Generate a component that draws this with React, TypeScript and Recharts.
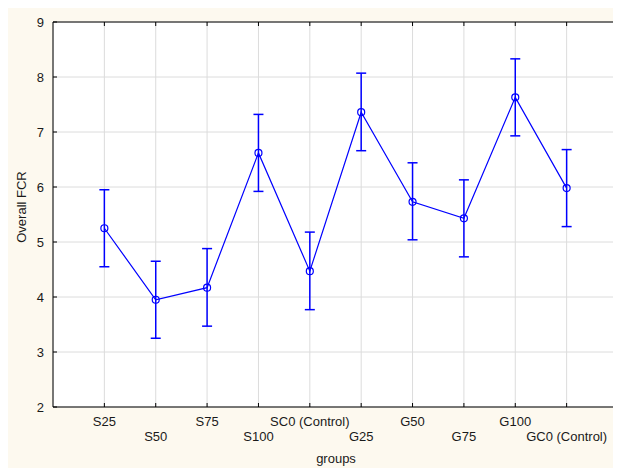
import { CartesianGrid, ErrorBar, Label, Line, LineChart, XAxis, YAxis } from 'recharts'

const categories = ['S25', 'S50', 'S75', 'S100', 'SC0 (Control)', 'G25', 'G50', 'G75', 'G100', 'GC0 (Control)']
const means = [5.25, 3.95, 4.17, 6.62, 4.47, 7.36, 5.73, 5.43, 7.63, 5.98]
const lower = [4.55, 3.25, 3.47, 5.92, 3.77, 6.66, 5.04, 4.73, 6.93, 5.28]
const upper = [5.95, 4.65, 4.88, 7.32, 5.18, 8.07, 6.44, 6.13, 8.33, 6.68]
const yTicks = [2, 3, 4, 5, 6, 7, 8, 9]
const xTicks = categories.map((_, i) => i + 1)

const data = categories.map((name, i) => ({
  name,
  pos: i + 1,
  fcr: means[i],
  err: [+(means[i] - lower[i]).toFixed(2), +(upper[i] - means[i]).toFixed(2)],
}))

const BLUE = '#0000ff'
const TEXT = '#1a1a1a'
const FONT = "'Liberation Sans', Arial, sans-serif"
const FS = 13

function BottomTick(props: any) {
  const { x, y, payload, index } = props
  const off = index % 2 === 0 ? 19 : 34
  return (
    <g>
      <line x1={x} y1={y} x2={x} y2={y - 4} stroke="#000" />
      <text x={x} y={y + off} textAnchor="middle" fontSize={FS} fill={TEXT} fontFamily={FONT}>
        {categories[payload.value - 1]}
      </text>
    </g>
  )
}

function TopTick(props: any) {
  const { x, y } = props
  return <line x1={x} y1={y} x2={x} y2={y + 4} stroke="#000" />
}

function LeftTick(props: any) {
  const { x, y, payload } = props
  return (
    <g>
      <line x1={x} y1={y} x2={x + 4} y2={y} stroke="#000" />
      <text x={x - 9} y={y + 4.5} textAnchor="end" fontSize={FS} fill={TEXT} fontFamily={FONT}>
        {payload.value}
      </text>
    </g>
  )
}

function RightTick(props: any) {
  const { x, y } = props
  return <line x1={x} y1={y} x2={x - 4} y2={y} stroke="#000" />
}

export default function App() {
  return (
    <div style={{ width: 613, height: 460, background: '#fdf9ef' }}>
      <LineChart width={613} height={460} data={data} margin={{ top: 0, right: 0, bottom: 0, left: 0 }}>
        <CartesianGrid stroke="#dcdcdc" fill="#ffffff" />
        <XAxis
          dataKey="pos"
          type="number"
          domain={[0, 11]}
          ticks={xTicks}
          height={61}
          tickSize={0}
          tickMargin={0}
          tickLine={false}
          axisLine={{ stroke: '#000' }}
          tick={<BottomTick />}
          interval={0}
        >
          <Label
            content={() => (
              <text x={328} y={455} textAnchor="middle" fontSize={FS} fill={TEXT} fontFamily={FONT}>
                groups
              </text>
            )}
          />
        </XAxis>
        <XAxis
          xAxisId="top"
          orientation="top"
          dataKey="pos"
          type="number"
          domain={[0, 11]}
          ticks={xTicks}
          height={14}
          tickSize={0}
          tickMargin={0}
          tickLine={false}
          axisLine={{ stroke: '#000' }}
          tick={<TopTick />}
          interval={0}
        />
        <YAxis
          domain={[2, 9]}
          ticks={yTicks}
          width={45}
          tickSize={0}
          tickMargin={0}
          tickLine={false}
          axisLine={{ stroke: '#000' }}
          tick={<LeftTick />}
          interval={0}
        >
          <Label
            content={() => (
              <text
                x={18}
                y={199}
                transform="rotate(-90, 18, 199)"
                textAnchor="middle"
                fontSize={FS}
                fill={TEXT}
                fontFamily={FONT}
              >
                Overall FCR
              </text>
            )}
          />
        </YAxis>
        <YAxis
          yAxisId="right"
          orientation="right"
          domain={[2, 9]}
          ticks={yTicks}
          width={3}
          tickSize={0}
          tickMargin={0}
          tickLine={false}
          axisLine={{ stroke: '#000' }}
          tick={<RightTick />}
          interval={0}
        />
        <Line
          dataKey="fcr"
          stroke={BLUE}
          strokeWidth={1.2}
          dot={{ r: 3.5, stroke: BLUE, strokeWidth: 1.2, fill: 'none' }}
          activeDot={false}
          isAnimationActive={false}
        >
          <ErrorBar dataKey="err" direction="y" width={5} stroke={BLUE} strokeWidth={1.5} isAnimationActive={false} />
        </Line>
      </LineChart>
    </div>
  )
}
